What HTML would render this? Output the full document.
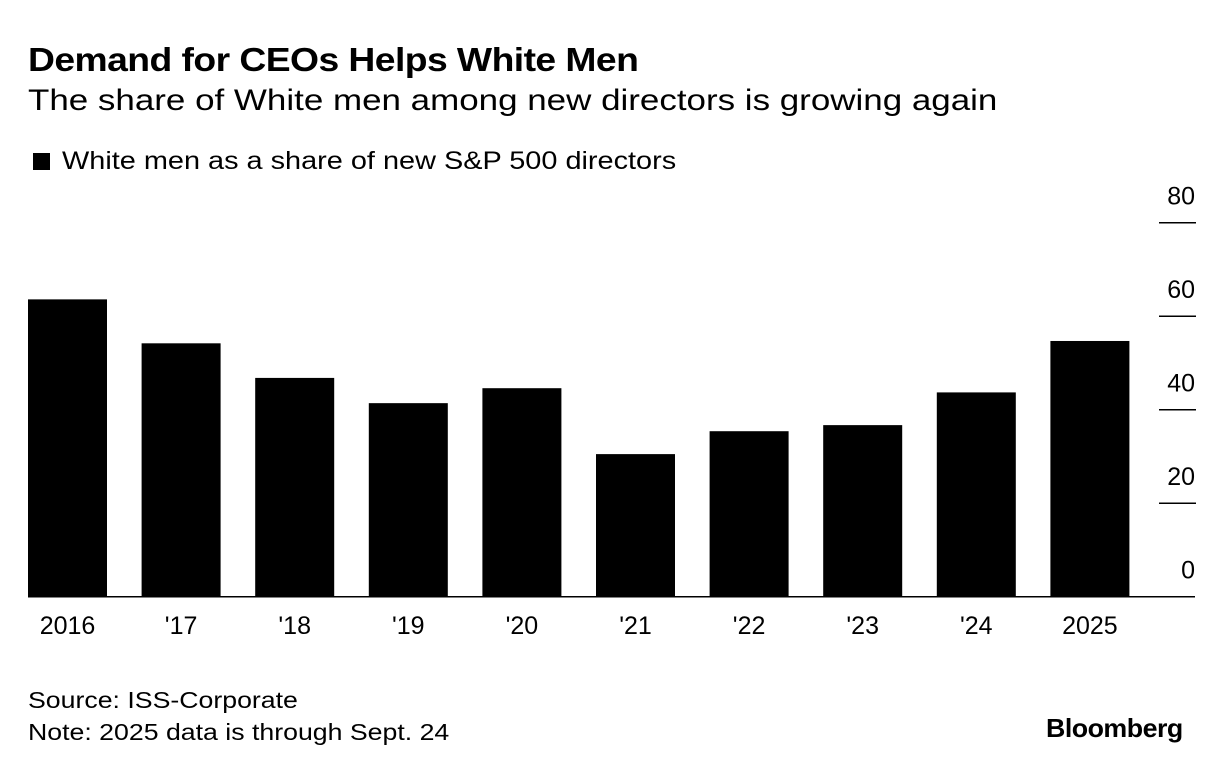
<!DOCTYPE html>
<html><head><meta charset="utf-8"><style>
body{margin:0;background:#fff;width:1224px;height:772px;overflow:hidden;font-family:"Liberation Sans",sans-serif;color:#000}
.t{position:absolute;white-space:nowrap;transform-origin:left top}
</style></head><body>
<div class="t" style="left:28px;top:41px;font-size:33px;font-weight:bold;letter-spacing:-0.5px;transform:scaleX(1.13)">Demand for CEOs Helps White Men</div>
<div class="t" style="left:28px;top:84px;font-size:30px;transform:scaleX(1.165)">The share of White men among new directors is growing again</div>
<div style="position:absolute;left:33px;top:153px;width:17px;height:17px;background:#000"></div>
<div class="t" style="left:62px;top:147px;font-size:25px;transform:scaleX(1.155)">White men as a share of new S&amp;P 500 directors</div>
<svg id="chart" width="1224" height="772" style="position:absolute;left:0;top:0"></svg>
<div class="t" style="left:28px;top:687px;font-size:23px;transform:scaleX(1.16)">Source: ISS-Corporate</div>
<div class="t" style="left:28px;top:719px;font-size:23px;transform:scaleX(1.16)">Note: 2025 data is through Sept. 24</div>
<div class="t" style="left:1046px;top:713px;font-size:26px;font-weight:bold;letter-spacing:-0.5px;transform:scaleX(1.03)">Bloomberg</div>
<script>
const categories=["2016","'17","'18","'19","'20","'21","'22","'23","'24","2025"];
const values=[63.6,54.2,46.8,41.4,44.6,30.5,35.4,36.7,43.7,54.7];
const ticks=[0,20,40,60,80];
const svg=document.getElementById('chart');
const NS='http://www.w3.org/2000/svg';
const y0=596.7,pxPer=93.5/20;
const y=v=>y0-v*pxPer;
const x=i=>28+i*113.6;
const bw=79;
values.forEach((v,i)=>{
 const r=document.createElementNS(NS,'rect');
 r.setAttribute('x',x(i));r.setAttribute('y',y(v));r.setAttribute('width',bw);r.setAttribute('height',y0-y(v));r.setAttribute('fill','#000');
 
 
 svg.appendChild(r);
 const t=document.createElementNS(NS,'text');
 t.setAttribute('x',x(i)+bw/2);t.setAttribute('y',634);t.setAttribute('text-anchor','middle');t.setAttribute('font-size','25');t.setAttribute('font-family','Liberation Sans, sans-serif');
 t.textContent=categories[i];
 
 
 svg.appendChild(t);
});
ticks.forEach(v=>{
 if(v>0){const l=document.createElementNS(NS,'line');
 l.setAttribute('x1',1159);l.setAttribute('x2',1196);l.setAttribute('y1',y(v));l.setAttribute('y2',y(v));l.setAttribute('stroke','#000');l.setAttribute('stroke-width','1.5');
 
 
 svg.appendChild(l);}
 const t=document.createElementNS(NS,'text');
 t.setAttribute('x',1195);t.setAttribute('y',y(v)-18);t.setAttribute('text-anchor','end');t.setAttribute('font-size','25');t.setAttribute('font-family','Liberation Sans, sans-serif');
 t.textContent=v;
 
 
 svg.appendChild(t);
});
const b=document.createElementNS(NS,'line');
b.setAttribute('x1',28);b.setAttribute('x2',1195);b.setAttribute('y1',y0);b.setAttribute('y2',y0);b.setAttribute('stroke','#000');b.setAttribute('stroke-width','1.5');


svg.appendChild(b);
</script>
</body></html>
